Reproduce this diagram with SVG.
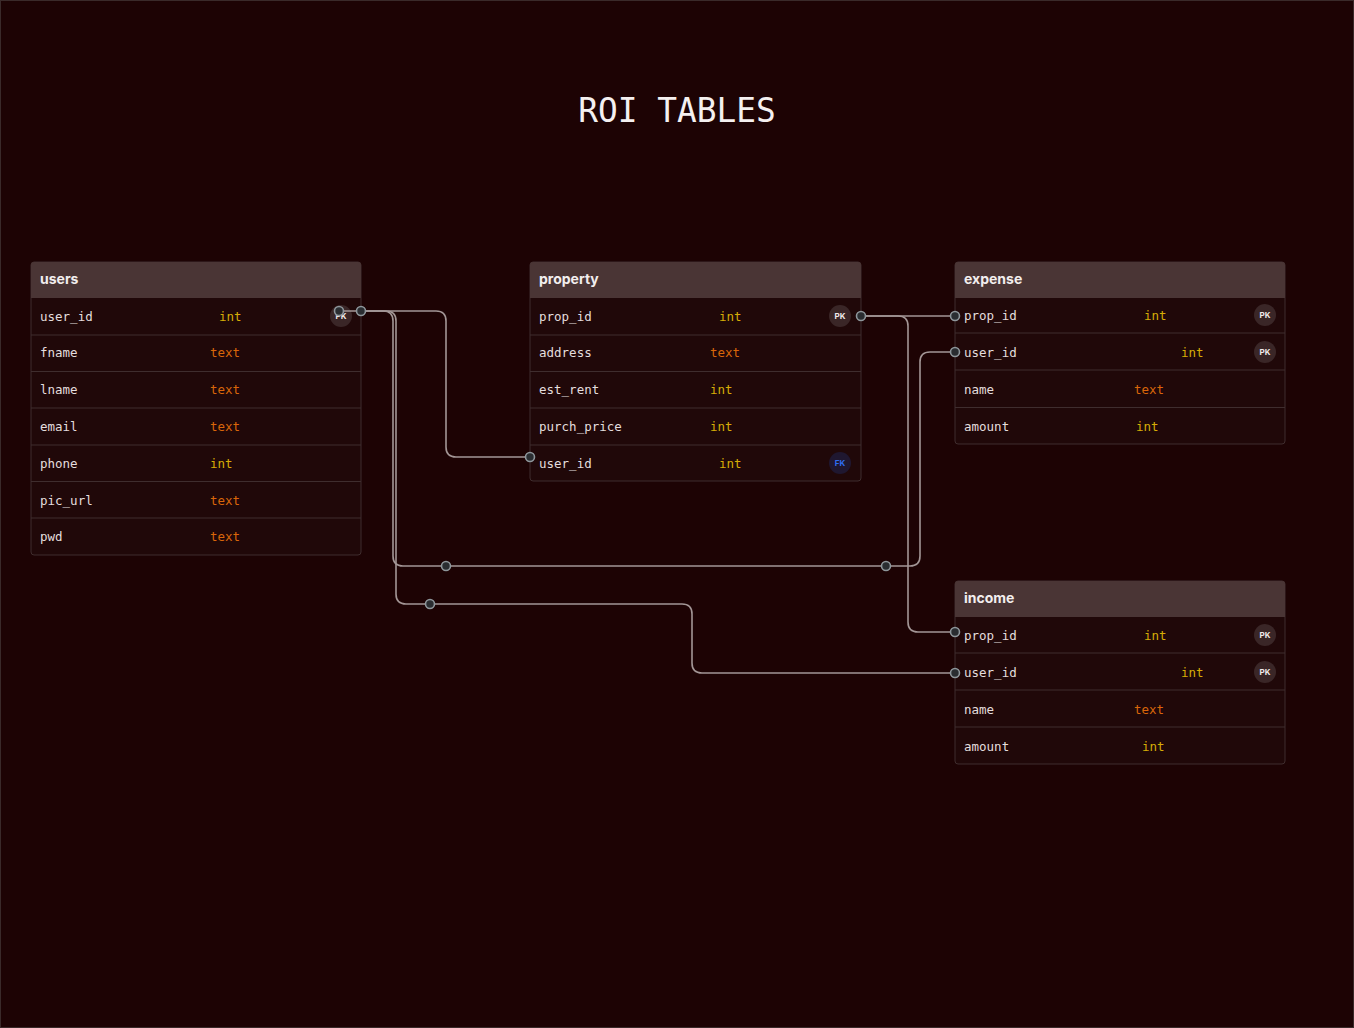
<svg xmlns="http://www.w3.org/2000/svg" width="1354" height="1028" viewBox="0 0 1354 1028">
<style>
.bg{fill:#1d0304}
.tbl{fill:#200809;stroke:#3f2d2e;stroke-width:1}
.hdr{fill:#4a3535}
.sep{stroke:#3f2d2e;stroke-width:1.2}
.ht{font-family:Inter,"Liberation Sans",sans-serif;font-weight:700;font-size:14px;fill:#f2eeee}
.f{font-family:"DejaVu Sans Mono","Liberation Mono",monospace;font-size:12.5px;fill:#e4dede}
.ti{font-family:"DejaVu Sans Mono","Liberation Mono",monospace;font-size:12.5px;fill:#d6ac06}
.tt{font-family:"DejaVu Sans Mono","Liberation Mono",monospace;font-size:12.5px;fill:#d9660a}
.pk{fill:#3a2627}
.fk{fill:#1f1730}
.pkt{font-family:Inter,"Liberation Sans",sans-serif;font-weight:700;font-size:8px;fill:#f0eaea;text-anchor:middle}
.fkt{font-family:Inter,"Liberation Sans",sans-serif;font-weight:700;font-size:8px;fill:#2f6df0;text-anchor:middle}
.e{fill:none;stroke:#a39696;stroke-width:1.6}
.d{fill:#2a2d31;stroke:#8e969b;stroke-width:1.6}
.title{font-family:"DejaVu Sans Mono","Liberation Mono",monospace;font-size:32.8px;fill:#f4f0f0;text-anchor:middle}
</style>
<rect class="bg" x="0" y="0" width="1354" height="1028"/>
<rect x="0.5" y="0.5" width="1353" height="1027" fill="none" stroke="#3a2a2a" stroke-width="1"/>
<text class="title" x="677" y="122">ROI TABLES</text>

<g id="users">
<rect class="tbl" x="31" y="262" width="330" height="293" rx="3"/>
<path class="hdr" d="M31,298 V265 Q31,262 34,262 H358 Q361,262 361,265 V298 Z"/>
<text class="ht" x="40" y="284">users</text>
<line class="sep" x1="31" y1="335" x2="361" y2="335"/>
<line class="sep" x1="31" y1="371.5" x2="361" y2="371.5"/>
<line class="sep" x1="31" y1="408" x2="361" y2="408"/>
<line class="sep" x1="31" y1="445" x2="361" y2="445"/>
<line class="sep" x1="31" y1="481.5" x2="361" y2="481.5"/>
<line class="sep" x1="31" y1="518" x2="361" y2="518"/>
<text class="f" x="40" y="321">user_id</text><text class="ti" x="219" y="321">int</text>
<circle class="pk" cx="341" cy="316" r="11"/><text class="pkt" x="341" y="319">PK</text>
<text class="f" x="40" y="357">fname</text><text class="tt" x="210" y="357">text</text>
<text class="f" x="40" y="394">lname</text><text class="tt" x="210" y="394">text</text>
<text class="f" x="40" y="431">email</text><text class="tt" x="210" y="431">text</text>
<text class="f" x="40" y="468">phone</text><text class="ti" x="210" y="468">int</text>
<text class="f" x="40" y="505">pic_url</text><text class="tt" x="210" y="505">text</text>
<text class="f" x="40" y="541">pwd</text><text class="tt" x="210" y="541">text</text>
</g>

<g id="property">
<rect class="tbl" x="530" y="262" width="331" height="219" rx="3"/>
<path class="hdr" d="M530,298 V265 Q530,262 533,262 H858 Q861,262 861,265 V298 Z"/>
<text class="ht" x="539" y="284">property</text>
<line class="sep" x1="530" y1="335" x2="861" y2="335"/>
<line class="sep" x1="530" y1="371.5" x2="861" y2="371.5"/>
<line class="sep" x1="530" y1="408" x2="861" y2="408"/>
<line class="sep" x1="530" y1="445" x2="861" y2="445"/>
<text class="f" x="539" y="321">prop_id</text><text class="ti" x="719" y="321">int</text>
<circle class="pk" cx="840" cy="316" r="11"/><text class="pkt" x="840" y="319">PK</text>
<text class="f" x="539" y="357">address</text><text class="tt" x="710" y="357">text</text>
<text class="f" x="539" y="394">est_rent</text><text class="ti" x="710" y="394">int</text>
<text class="f" x="539" y="431">purch_price</text><text class="ti" x="710" y="431">int</text>
<text class="f" x="539" y="468">user_id</text><text class="ti" x="719" y="468">int</text>
<circle class="fk" cx="840" cy="463" r="11"/><text class="fkt" x="840" y="466">FK</text>
</g>

<g id="expense">
<rect class="tbl" x="955" y="262" width="330" height="182" rx="3"/>
<path class="hdr" d="M955,298 V265 Q955,262 958,262 H1282 Q1285,262 1285,265 V298 Z"/>
<text class="ht" x="964" y="284">expense</text>
<line class="sep" x1="955" y1="333" x2="1285" y2="333"/>
<line class="sep" x1="955" y1="370" x2="1285" y2="370"/>
<line class="sep" x1="955" y1="407.5" x2="1285" y2="407.5"/>
<text class="f" x="964" y="320">prop_id</text><text class="ti" x="1144" y="320">int</text>
<circle class="pk" cx="1265" cy="315" r="11"/><text class="pkt" x="1265" y="318">PK</text>
<text class="f" x="964" y="357">user_id</text><text class="ti" x="1181" y="357">int</text>
<circle class="pk" cx="1265" cy="352" r="11"/><text class="pkt" x="1265" y="355">PK</text>
<text class="f" x="964" y="394">name</text><text class="tt" x="1134" y="394">text</text>
<text class="f" x="964" y="431">amount</text><text class="ti" x="1136" y="431">int</text>
</g>

<g id="income">
<rect class="tbl" x="955" y="581" width="330" height="183" rx="3"/>
<path class="hdr" d="M955,617 V584 Q955,581 958,581 H1282 Q1285,581 1285,584 V617 Z"/>
<text class="ht" x="964" y="603">income</text>
<line class="sep" x1="955" y1="653" x2="1285" y2="653"/>
<line class="sep" x1="955" y1="690" x2="1285" y2="690"/>
<line class="sep" x1="955" y1="727" x2="1285" y2="727"/>
<text class="f" x="964" y="640">prop_id</text><text class="ti" x="1144" y="640">int</text>
<circle class="pk" cx="1265" cy="635" r="11"/><text class="pkt" x="1265" y="638">PK</text>
<text class="f" x="964" y="677">user_id</text><text class="ti" x="1181" y="677">int</text>
<circle class="pk" cx="1265" cy="672" r="11"/><text class="pkt" x="1265" y="675">PK</text>
<text class="f" x="964" y="714">name</text><text class="tt" x="1134" y="714">text</text>
<text class="f" x="964" y="751">amount</text><text class="ti" x="1142" y="751">int</text>
</g>

<g id="connectors">
<path class="e" d="M361,311 H436 Q446,311 446,321 V447 Q446,457 456,457 H530"/>
<path class="e" d="M339,311 H383 Q393,311 393,321 V556 Q393,566 403,566 H910 Q920,566 920,556 V362 Q920,352 930,352 H955"/>
<path class="e" d="M361,311 H386 Q396,311 396,321 V594 Q396,604 406,604 H682 Q692,604 692,614 V663 Q692,673 702,673 H955"/>
<path class="e" d="M861,316 H955"/>
<path class="e" d="M861,316 H898 Q908,316 908,326 V622 Q908,632 918,632 H955"/>
<circle class="d" cx="446" cy="566" r="4.5"/>
<circle class="d" cx="886" cy="566" r="4.5"/>
<circle class="d" cx="430" cy="604" r="4.5"/>
<circle class="d" cx="339" cy="311" r="4.5"/>
<circle class="d" cx="361" cy="311" r="4.5"/>
<circle class="d" cx="530" cy="457" r="4.5"/>
<circle class="d" cx="861" cy="316" r="4.5"/>
<circle class="d" cx="955" cy="316" r="4.5"/>
<circle class="d" cx="955" cy="352" r="4.5"/>
<circle class="d" cx="955" cy="632" r="4.5"/>
<circle class="d" cx="955" cy="673" r="4.5"/>
</g>
</svg>
